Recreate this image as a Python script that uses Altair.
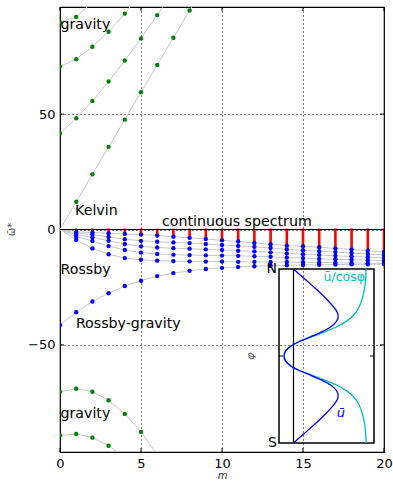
import altair as alt
import pandas as pd

FONT = "DejaVu Sans"

# ---------------- data ----------------
kelvin_m = [0, 1, 2, 3, 4, 5, 6, 7, 8, 9]
kelvin_w = [0, 12.0, 23.9, 35.8, 47.6, 59.5, 71.3, 83.1, 94.9, 106.7]

grav_up1_w = [41.6, 48.2, 55.7, 64.1, 73.2, 82.8, 92.9, 103.5]
grav_up2_w = [70.7, 73.8, 79.2, 85.7, 93.5, 102.5]
grav_up3_w = [89.8, 92.1, 98.5]
grav_dn1_w = [-70.3, -69.0, -70.3, -74.0, -79.9, -87.7, -97.5]
grav_dn2_w = [-89.3, -88.6, -90.2, -93.7, -99.0]

m_all = list(range(0, 21))
rg_w = [-41.4, -35.8, -31.2, -27.6, -24.5, -22.2, -20.2, -18.9, -17.9, -17.1,
        -16.6, -16.2, -15.9, -15.7, -15.5, -15.4, -15.3, -15.2, -15.1, -15.1, -15.0]
rossby_e = [0, -1.0, -1.3, -1.6, -1.9, -2.2, -2.6, -3.1, -3.6, -4.1, -4.7,
            -5.2, -5.8, -6.4, -7.0, -7.3, -7.7, -8.2, -8.6, -9.2, -9.7]
rossby_d = [0, -1.5, -2.2, -3.2, -4.2, -4.9, -5.3, -5.6, -5.9, -6.3, -6.7,
            -7.1, -7.5, -8.0, -8.6, -9.0, -9.4, -9.8, -10.2, -10.6, -11.0]
rossby_c = [0, -2.2, -3.4, -4.9, -6.3, -7.3, -7.8, -8.1, -8.3, -8.6, -8.9,
            -9.2, -9.5, -9.9, -10.4, -10.7, -11.0, -11.4, -11.7, -12.0, -12.3]
rossby_b = [0, -3.1, -5.0, -7.2, -8.9, -10.0, -10.6, -10.9, -11.1, -11.2, -11.3,
            -11.4, -11.6, -11.8, -12.2, -12.4, -12.7, -12.9, -13.1, -13.3, -13.5]
rossby_a = [0, -4.5, -8.2, -10.7, -12.4, -13.1, -13.5, -13.7, -13.8, -13.9, -13.9,
            -14.0, -14.0, -14.1, -14.1, -14.2, -14.3, -14.4, -14.5, -14.6, -14.7]

cont_m = list(range(1, 21))
cont_top = [0.4, 0.4, 0.4, 0.4, 0.4, 0.4, 0.4, 0.4, 0.4, 0.4,
            0.4, 0.4, 0.4, 0.4, 0.4, 0.4, 0.4, 0.4, 0.4, 0.4]
cont_bottom = [-0.8, -1.1, -1.4, -1.6, -1.9, -2.3, -2.8, -3.2, -3.7, -4.2,
               -4.7, -5.3, -5.8, -6.4, -6.9, -7.3, -7.9, -8.3, -8.9, -9.4]

label_text = ["gravity", "Kelvin", "continuous spectrum", "Rossby", "Rossby-gravity", "gravity"]
label_m = [0.03, 0.93, 6.3, 0.03, 0.98, 0.03]
label_w = [87.0, 6.3, 1.3, -19.4, -42.7, -81.6]

x_ticks = [0, 5, 10, 15, 20]
y_ticks = [-50, 0, 50]

# inset profiles
phi = [-90, -80, -70, -60, -50, -45, -40, -35, -30, -25, -20, -15, -10, -5, 0,
       5, 10, 15, 20, 25, 30, 35, 40, 45, 50, 60, 70, 80, 90]
ubar = [0.0, 0.15, 0.30, 0.44, 0.56, 0.605, 0.615, 0.585, 0.51, 0.39, 0.24, 0.08, -0.04, -0.11, -0.13,
        -0.11, -0.04, 0.08, 0.24, 0.39, 0.51, 0.585, 0.615, 0.605, 0.56, 0.44, 0.30, 0.15, 0.0]
ucos = [1.0, 0.995, 0.98, 0.95, 0.9, 0.86, 0.80, 0.71, 0.59, 0.43, 0.26, 0.08, -0.04, -0.11, -0.13,
        -0.11, -0.04, 0.08, 0.26, 0.43, 0.59, 0.71, 0.80, 0.86, 0.9, 0.95, 0.98, 0.995, 1.0]

# ---------------- tables ----------------
rows = []


def add(name, kind, ms, ws, dot_from):
    for m, w in zip(ms, ws):
        rows.append({"curve": name, "kind": kind, "m": m, "w": w, "dot": m >= dot_from})


add("kelvin", "gravity", kelvin_m, kelvin_w, 1)
add("gu1", "gravity", m_all, grav_up1_w, 0)
add("gu2", "gravity", m_all, grav_up2_w, 0)
add("gu3", "gravity", m_all, grav_up3_w, 0)
add("gd1", "gravity", m_all, grav_dn1_w, 0)
add("gd2", "gravity", m_all, grav_dn2_w, 0)
add("rg", "rossby", m_all, rg_w, 0)
add("ra", "rossby", m_all, rossby_a, 1)
add("rb", "rossby", m_all, rossby_b, 1)
add("rc", "rossby", m_all, rossby_c, 1)
add("rd", "rossby", m_all, rossby_d, 1)
add("re", "rossby", m_all, rossby_e, 1)
df = pd.DataFrame(rows)

cont = pd.DataFrame({"m": cont_m, "top": cont_top, "bottom": cont_bottom})
labels = pd.DataFrame({"text": label_text, "m": label_m, "w": label_w})
xt = pd.DataFrame({"m": x_ticks})
yt = pd.DataFrame({"w": y_ticks})
zero = pd.DataFrame({"w": [0]})
prof = pd.DataFrame({"phi": phi, "ubar": ubar, "ucos": ucos})

W, H = 324, 445

xs = alt.Scale(domain=[0, 20], nice=False, zero=False)
ys = alt.Scale(domain=[-96.4, 96.4], nice=False, zero=False)

x_axis = alt.Axis(values=x_ticks, grid=True, gridDash=[1, 3], gridColor="black", gridOpacity=1,
                  gridWidth=1, ticks=False, tickSize=0, domain=False, labelFontSize=13,
                  labelPadding=5, labelColor="black", labelFont=FONT, labelFlush=False,
                  labelOverlap=False, title="m", titleFont=FONT, titleFontSize=10,
                  titleFontStyle="italic", titleFontWeight="normal", titleColor="#333",
                  titleX=162, titleY=26, titleBaseline="alphabetic", titleAlign="center")
y_axis = alt.Axis(values=y_ticks, grid=True, gridDash=[1, 3], gridColor="black", gridOpacity=1,
                  gridWidth=1, ticks=False, tickSize=0, domain=False, labelFontSize=13,
                  labelPadding=5, labelColor="black", labelFont=FONT, labelFlush=False,
                  labelOverlap=False, title="ω̄*", titleFont=FONT, titleFontSize=10,
                  titleFontWeight="normal", titleColor="#444", titleX=-49, titleY=222,
                  titleAngle=270, titleBaseline="middle", titleAlign="center")

X = alt.X("m:Q", scale=xs, axis=x_axis)
Y = alt.Y("w:Q", scale=ys, axis=y_axis)

lines = alt.Chart(df).mark_line(color="#c8c8c8", strokeWidth=1, clip=True).encode(
    x=X, y=Y, detail="curve:N", order="m:Q")

red = alt.Chart(cont).mark_rule(color="#ff0000", strokeWidth=2.6, clip=True).encode(
    x=alt.X("m:Q", scale=xs), y=alt.Y("top:Q", scale=ys), y2="bottom:Q")

zline = alt.Chart(zero).mark_rule(color="black", strokeWidth=1).encode(
    y=alt.Y("w:Q", scale=ys))

dots = alt.Chart(df).transform_filter("datum.dot").mark_circle(size=19, opacity=1, clip=True).encode(
    x=alt.X("m:Q", scale=xs), y=alt.Y("w:Q", scale=ys),
    color=alt.Color("kind:N", scale=alt.Scale(domain=["gravity", "rossby"],
                                              range=["#008000", "#0000ff"]), legend=None))

texts = alt.Chart(labels).mark_text(align="left", baseline="alphabetic", font=FONT,
                                    fontSize=14.2, color="black").encode(
    x=alt.X("m:Q", scale=xs), y=alt.Y("w:Q", scale=ys), text="text:N")

tick_b = alt.Chart(xt).mark_rule(color="black", strokeWidth=1).encode(
    x=alt.X("m:Q", scale=xs), y=alt.value(H), y2=alt.value(H - 4))
tick_t = alt.Chart(xt).mark_rule(color="black", strokeWidth=1).encode(
    x=alt.X("m:Q", scale=xs), y=alt.value(0), y2=alt.value(4))
tick_l = alt.Chart(yt).mark_rule(color="black", strokeWidth=1).encode(
    y=alt.Y("w:Q", scale=ys), x=alt.value(0), x2=alt.value(4))
tick_r = alt.Chart(yt).mark_rule(color="black", strokeWidth=1).encode(
    y=alt.Y("w:Q", scale=ys), x=alt.value(W), x2=alt.value(W - 4))

main = alt.layer(lines, red, zline, dots, texts, tick_b, tick_t, tick_l, tick_r)

# ---------------- inset ----------------
xi = alt.Scale(domain=[-0.2, 1.11], range=[219, 314], nice=False, zero=False)
yi = alt.Scale(domain=[-90, 90], range=[436, 262], nice=False, zero=False)

box_df = pd.DataFrame({"u0": [-0.2], "u1": [1.11], "p0": [-90], "p1": [90]})
box = alt.Chart(box_df).mark_rect(fillOpacity=0, stroke="black", strokeWidth=1.5).encode(
    x=alt.X("u0:Q", scale=xi, axis=None), x2="u1:Q",
    y=alt.Y("p0:Q", scale=yi, axis=None), y2="p1:Q")
uzero = alt.Chart(pd.DataFrame({"u": [0], "p0": [-90], "p1": [90]})).mark_rule(
    color="black", strokeWidth=1.2).encode(
    x=alt.X("u:Q", scale=xi, axis=None), y=alt.Y("p0:Q", scale=yi, axis=None), y2="p1:Q")
itick_l = alt.Chart(pd.DataFrame({"p": [0]})).mark_rule(color="black", strokeWidth=1).encode(
    y=alt.Y("p:Q", scale=yi, axis=None), x=alt.value(219), x2=alt.value(223))
itick_r = alt.Chart(pd.DataFrame({"p": [0]})).mark_rule(color="black", strokeWidth=1).encode(
    y=alt.Y("p:Q", scale=yi, axis=None), x=alt.value(314), x2=alt.value(310))

cyan_line = alt.Chart(prof).mark_line(color="#00bfbf", strokeWidth=1.3,
                                      interpolate="catmull-rom").encode(
    x=alt.X("ucos:Q", scale=xi, axis=None), y=alt.Y("phi:Q", scale=yi, axis=None), order="phi:Q")
blue_line = alt.Chart(prof).mark_line(color="#0000ff", strokeWidth=1.3,
                                      interpolate="catmull-rom").encode(
    x=alt.X("ubar:Q", scale=xi, axis=None), y=alt.Y("phi:Q", scale=yi, axis=None), order="phi:Q")

ns_df = pd.DataFrame({"t": ["N", "S"], "u": [-0.2, -0.2], "p": [90, -90]})
ns = alt.Chart(ns_df).mark_text(align="right", baseline="middle", dx=-2, font=FONT,
                                fontSize=14, color="black").encode(
    x=alt.X("u:Q", scale=xi, axis=None), y=alt.Y("p:Q", scale=yi, axis=None), text="t:N")
phi_lab = alt.Chart(pd.DataFrame({"t": ["φ"], "u": [-0.58], "p": [0]})).mark_text(
    align="center", baseline="middle", angle=270, font=FONT, fontSize=11, fontStyle="italic",
    color="#555").encode(
    x=alt.X("u:Q", scale=xi, axis=None), y=alt.Y("p:Q", scale=yi, axis=None), text="t:N")
ucos_lab = alt.Chart(pd.DataFrame({"t": ["ū/cosφ"], "u": [0.986], "p": [81.5]})).mark_text(
    align="right", baseline="middle", font=FONT, fontSize=12.5, color="#00bfbf").encode(
    x=alt.X("u:Q", scale=xi, axis=None), y=alt.Y("p:Q", scale=yi, axis=None), text="t:N")
ubar_lab = alt.Chart(pd.DataFrame({"t": ["ū"], "u": [0.654], "p": [-59.4]})).mark_text(
    align="center", baseline="middle", font=FONT, fontSize=13, fontStyle="italic",
    color="#0000ff").encode(
    x=alt.X("u:Q", scale=xi, axis=None), y=alt.Y("p:Q", scale=yi, axis=None), text="t:N")

inset = alt.layer(box, uzero, itick_l, itick_r, cyan_line, blue_line, ns, phi_lab, ucos_lab, ubar_lab)

chart = alt.layer(main, inset).resolve_scale(x="independent", y="independent").properties(
    width=W, height=H,
    padding={"left": 60, "top": 7, "right": 9, "bottom": 30},
    autosize=alt.AutoSizeParams(type="none"),
    background="white",
).configure_view(stroke="black", strokeWidth=1.2)

chart.save("out.html", embed_options={"renderer": "svg", "actions": False})
